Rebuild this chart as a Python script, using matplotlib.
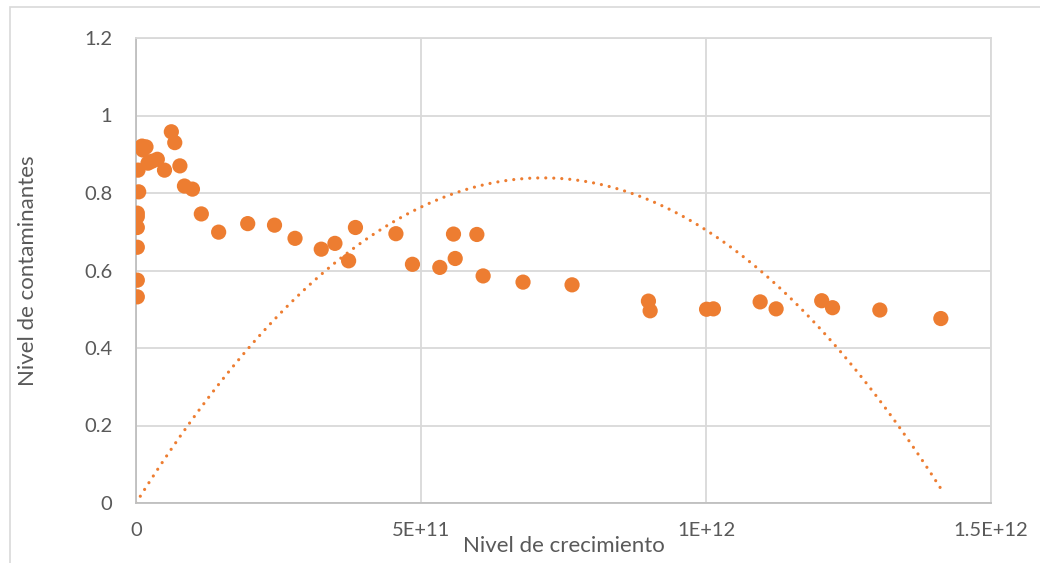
import matplotlib
matplotlib.use("Agg")
import matplotlib.pyplot as plt
import numpy as np
from matplotlib.patches import Rectangle

FIGSIZE = (10.4, 5.63)
ORANGE = "#ED7D31"
GRID = "#D9D9D9"
TEXT = "#595959"

# scatter data
crecimiento = np.array([
    2.3e9, 2.3e9, 2.3e9, 2.3e9, 2.3e9, 2.3e9, 4.7e9, 3.5e9,
    1.05e10, 1.2e10, 1.75e10, 2.1e10, 2.8e10, 3.74e10, 5.0e10, 6.2e10,
    6.8e10, 7.7e10, 8.5e10, 9.9e10, 1.146e11, 1.45e11, 1.96e11, 2.43e11,
    2.79e11, 3.25e11, 3.49e11, 3.73e11, 3.85e11, 4.56e11, 4.85e11, 5.33e11,
    5.57e11, 5.60e11, 5.98e11, 6.09e11, 6.79e11, 7.65e11, 8.99e11, 9.02e11,
    1.001e12, 1.013e12, 1.095e12, 1.123e12, 1.203e12, 1.222e12, 1.305e12, 1.412e12,
])
contaminantes = np.array([
    0.532, 0.575, 0.660, 0.711, 0.739, 0.748, 0.803, 0.859,
    0.921, 0.911, 0.919, 0.877, 0.882, 0.887, 0.859, 0.958,
    0.930, 0.870, 0.818, 0.810, 0.746, 0.699, 0.721, 0.717,
    0.683, 0.655, 0.670, 0.625, 0.711, 0.695, 0.616, 0.608,
    0.694, 0.631, 0.693, 0.586, 0.570, 0.563, 0.521, 0.496,
    0.500, 0.501, 0.519, 0.501, 0.522, 0.504, 0.498, 0.476,
])

# polynomial trendline (order 2), vertex form
trend_peak_x = 7.14e11
trend_peak_y = 0.839

x_ticks = [0, 5e11, 1e12, 1.5e12]
x_tick_labels = ["0", "5E+11", "1E+12", "1.5E+12"]
y_ticks = [0, 0.2, 0.4, 0.6, 0.8, 1.0, 1.2]
y_tick_labels = ["0", "0.2", "0.4", "0.6", "0.8", "1", "1.2"]

plt.rcParams['font.family'] = ['Lato', 'DejaVu Sans']

fig = plt.figure(figsize=FIGSIZE, dpi=100)
ax = fig.add_axes([136 / 1040, 1 - 503 / 563, 855 / 1040, 465 / 563])

# outer chart frame
fig.add_artist(Rectangle((10 / 1040, -0.05), 1.2, 1 - 7 / 563 + 0.05,
                         transform=fig.transFigure, fill=False,
                         edgecolor=GRID, linewidth=1.2))

ax.scatter(crecimiento, contaminantes, s=120, color=ORANGE, edgecolors="none", zorder=3)

xt = np.linspace(0, crecimiento.max(), 300)
yt = trend_peak_y * (1 - ((xt - trend_peak_x) / trend_peak_x) ** 2)
ax.plot(xt, yt, color=ORANGE, linewidth=2.3, linestyle=(0, (0.01, 2.5)),
        dash_capstyle="round", zorder=2)

ax.set_xlim(0, 1.5e12)
ax.set_ylim(0, 1.2)
ax.set_xticks(x_ticks)
ax.set_xticklabels(x_tick_labels)
ax.set_yticks(y_ticks)
ax.set_yticklabels(y_tick_labels)
ax.tick_params(length=0, labelsize=14.5, labelcolor=TEXT)
ax.tick_params(axis="y", pad=17)
ax.tick_params(axis="x", pad=14)

ax.grid(True, color=GRID, linewidth=1.3)
ax.set_axisbelow(True)
for side in ax.spines.values():
    side.set_color(GRID)
    side.set_linewidth(1.3)
ax.spines["left"].set_color("#BFBFBF")
ax.spines["bottom"].set_color("#BFBFBF")

ax.set_xlabel("Nivel de crecimiento", fontsize=16, color=TEXT)
ax.set_ylabel("Nivel de contaminantes", fontsize=16, color=TEXT)
ax.xaxis.set_label_coords(0.5, -0.072)
ax.yaxis.set_label_coords(-0.115, 0.5)

fig.savefig("out.png", dpi=100)
